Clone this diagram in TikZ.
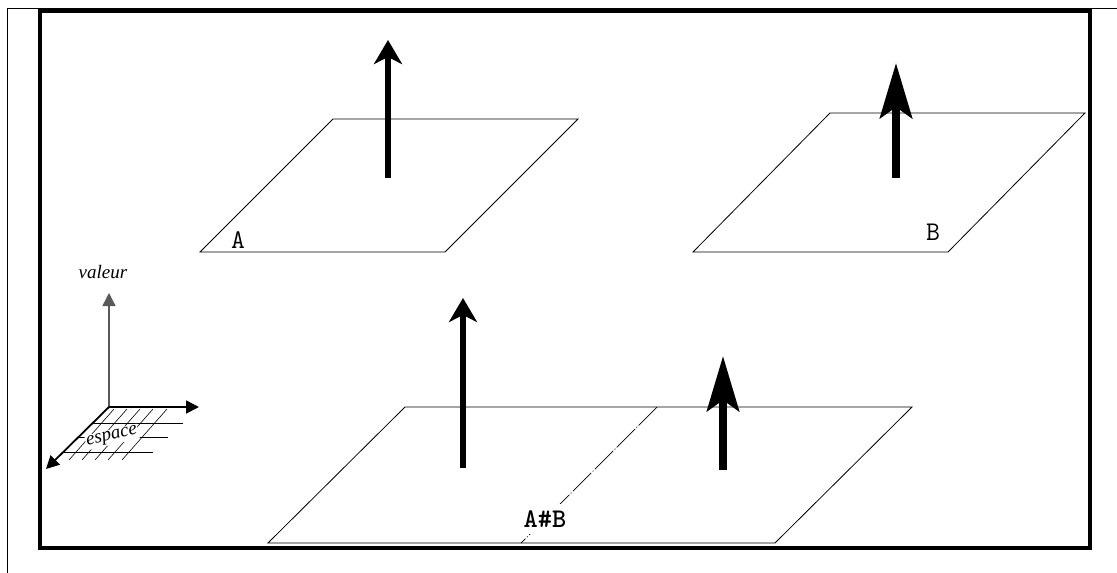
\documentclass[tikz,border=0pt]{standalone}
\usepackage{fontspec}
\setmainfont{Liberation Serif}
\newfontfamily\monobold{lmmonolt10-bold}[Extension=.otf]
\usetikzlibrary{arrows.meta}

\tikzset{
  plane/.style={line width=0.8pt},
  slimarrow/.style={line width=6pt,-{Stealth[length=24pt,width=28pt,inset=7pt]}},
  fatarrow/.style={line width=8.5pt,-{Stealth[length=55pt,width=32pt,inset=11pt]}},
  axisline/.style={line width=1.8pt,-{Triangle[length=13pt,width=13pt]}},
  hatch/.style={line width=0.6pt},
  ttlabel/.style={font=\ttfamily\fontsize{27}{27}\selectfont},
  axlabel/.style={font=\itshape\fontsize{19}{19}\selectfont},
}

\begin{document}
\begin{tikzpicture}[x=1pt,y=-1pt]
        \useasboundingbox (0,0) rectangle (1117,573);

        \draw[line width=1pt] (7,573) -- (7,8) -- (1117,8);
        \draw[line width=4pt] (40,10.5) rectangle (1090,548);

        % plane A
        \coordinate (a1) at (200,252);
        \coordinate (a2) at (445,252);
        \coordinate (a3) at (578,119);
        \coordinate (a4) at (333,119);
        \draw[plane] (a1) -- (a2) -- (a3) -- (a4) -- cycle;
        \node[ttlabel] (labA) at (238,240) {A};

        % plane B
        \coordinate (b1) at (693,252);
        \coordinate (b2) at (948,252);
        \coordinate (b3) at (1085,113);
        \coordinate (b4) at (830,113);
        \draw[plane] (b1) -- (b2) -- (b3) -- (b4) -- cycle;
        \node[ttlabel] (labB) at (933,232) {B};

        % plane A#B
        \coordinate (c1) at (268,543);
        \coordinate (c2) at (775,543);
        \coordinate (c3) at (912,407);
        \coordinate (c4) at (405,407);
        \coordinate (cut1) at (657,407);
        \coordinate (cut2) at (521,543);
        \draw[plane] (c1) -- (c2) -- (c3) -- (c4) -- cycle;
        \draw[line width=0.7pt, dash pattern=on 26pt off 2pt on 1pt off 2pt] (cut1) -- (cut2);
        \node[font=\monobold\fontsize{27}{27}\selectfont,
              fill=white, inner xsep=1pt, inner ysep=7pt] (labAB) at (545,519) {A\#B};

        % values
        \coordinate (vA0) at (388,178);
        \coordinate (vA1) at (388,40);
        \coordinate (vB0) at (896,178);
        \coordinate (vB1) at (896,63);
        \coordinate (vC0) at (463,468);
        \coordinate (vC1) at (463,298);
        \coordinate (vD0) at (723,470);
        \coordinate (vD1) at (723,356);
        \draw[slimarrow] (vA0) -- (vA1);
        \draw[fatarrow] (vB0) -- (vB1);
        \draw[slimarrow] (vC0) -- (vC1);
        \draw[fatarrow] (vD0) -- (vD1);

        % axes
        \coordinate (o) at (109,407);
        \coordinate (up) at (109,293);
        \coordinate (right) at (199,407);
        \coordinate (front) at (46,469);
        \foreach \x in {114,127,140,153,167}
          \draw[hatch] (\x,409) -- ++(-45,51);
        \draw[hatch] (93,423) -- (183,423);
        \draw[hatch] (79,437) -- (168,437);
        \draw[hatch] (64,452) -- (153,452);
        \draw[axisline, gray!70!black, line width=1.3pt] (o) -- (up);
        \draw[axisline] (o) -- (right);
        \draw[axisline] (o) -- (front);
        \node[axlabel] (valeur) at (103,272) {valeur};
        \node[axlabel, fill=white, inner sep=1pt, rotate=13] (espace) at (112,437) {espace};
    \end{tikzpicture}
\end{document}
